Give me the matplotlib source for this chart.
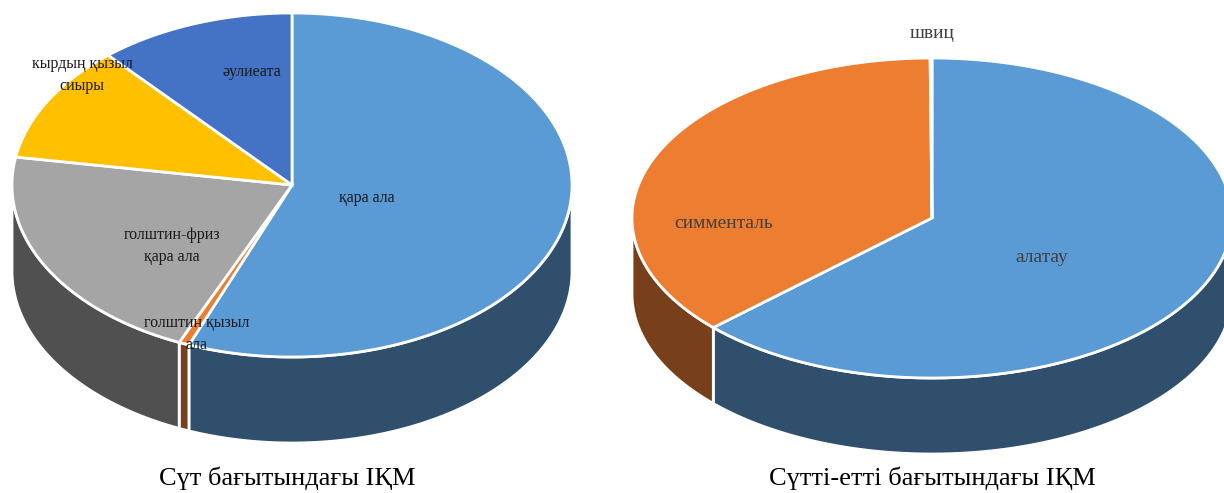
import numpy as np
import matplotlib
matplotlib.use("Agg")
from matplotlib import pyplot as plt
from matplotlib.patches import Polygon

plt.rcParams['font.family'] = ['Liberation Serif', 'DejaVu Serif']

# left chart: clockwise from 12 o'clock
dairy_breeds = ["қара ала", "голштин қызыл ала", "голштин-фриз қара ала",
                "кырдың қызыл сиыры", "әулиеата"]
dairy_values = [56.0, 0.6, 21.0, 11.0, 11.4]

# right chart
mixed_breeds = ["алатау", "симменталь", "швиц"]
mixed_values = [63.0, 36.9, 0.1]

top_colors = ["#5B9BD5", "#ED7D31", "#A5A5A5", "#FFC000", "#4472C4"]
side_colors = ["#2F4F6C", "#78401A", "#505050", "#7F6000", "#22395F"]


def arc(cx, cy, rx, ry, t1, t2):
    t = np.radians(np.linspace(t1, t2, max(int(abs(t2 - t1) * 2), 2)))
    return np.column_stack([cx + rx * np.sin(t), cy - ry * np.cos(t)])


def pie3d(ax, values, cx, cy, rx, ry, depth):
    vals = np.array(values, dtype=float)
    edges = np.concatenate([[0], np.cumsum(vals / vals.sum() * 360)])

    # rim first (only the front half is seen)
    for i in range(len(vals)):
        a = max(edges[i], 90)
        b = min(edges[i + 1], 270)
        if b <= a:
            continue
        top = arc(cx, cy, rx, ry, a, b)
        bottom = top[::-1] + [0, depth]
        ax.add_patch(Polygon(np.vstack([top, bottom]), closed=True,
                             facecolor=side_colors[i], edgecolor="white", lw=2))

    # top face
    for i in range(len(vals)):
        pts = np.vstack([[cx, cy], arc(cx, cy, rx, ry, edges[i], edges[i + 1])])
        ax.add_patch(Polygon(pts, closed=True, facecolor=top_colors[i],
                             edgecolor="white", lw=2))


fig = plt.figure(figsize=(12.24, 4.93), dpi=100)
ax = fig.add_axes([0, 0, 1, 1])
ax.set_xlim(0, 1224)
ax.set_ylim(493, 0)
ax.axis('off')

pie3d(ax, dairy_values, 292, 185, 280, 172, 86)
pie3d(ax, mixed_values, 932, 218, 300, 160, 76)

lab = dict(fontsize=11.5, color="#1a1a1a", ha="center", va="center")
ax.text(367, 198, "қара ала", **lab)
ax.text(197, 334, "голштин қызыл\nала", linespacing=1.55, **lab)
ax.text(172, 246, "голштин-фриз\nқара ала", linespacing=1.55, **lab)
ax.text(82, 75, "кырдың қызыл\nсиыры", linespacing=1.55, **lab)
ax.text(252, 72, "әулиеата", **lab)

lab2 = dict(fontsize=14, color="#404040", ha="center", va="center")
ax.text(1042, 258, "алатау", **lab2)
ax.text(724, 224, "симменталь", **lab2)
ax.text(932, 33, "швиц", **lab2)

ax.text(287, 478, "Сүт бағытындағы ІҚМ", fontsize=19, ha="center", va="center")
ax.text(932, 478, "Сүтті-етті бағытындағы ІҚМ", fontsize=19, ha="center", va="center")

fig.savefig("out.png", dpi=100)
